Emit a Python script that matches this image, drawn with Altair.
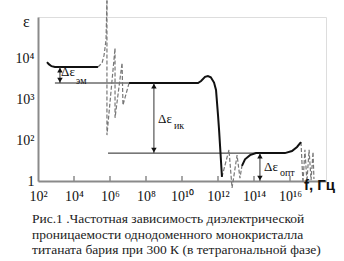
import altair as alt
import pandas as pd

# ---- data (x = log10 f, y = log10 eps) ----
solid_lowfreq_x = [2.5, 2.6, 2.75, 2.94, 5.33]
solid_lowfreq_y = [3.90, 3.85, 3.80, 3.78, 3.78]

solid_mid_x = [7.06, 10.89, 11.06, 11.28, 11.44, 11.6, 11.78, 11.89, 12.0, 12.06, 12.22]
solid_mid_y = [3.39, 3.39, 3.44, 3.54, 3.56, 3.53, 3.40, 3.22, 2.61, 2.24, 1.10]

solid_opt_x = [13.33, 13.5, 13.78, 14.11, 15.72, 16.11, 16.39, 16.61]
solid_opt_y = [1.37, 1.53, 1.63, 1.68, 1.68, 1.73, 1.83, 1.95]

dash_rise_x = [5.33, 5.56, 5.67, 5.78, 5.83]
dash_rise_y = [3.78, 3.88, 4.07, 4.44, 5.40]

dash_zig1_x = [5.83, 5.83, 6.28, 6.28, 6.67, 6.72, 7.06]
dash_zig1_y = [5.40, 2.12, 4.24, 2.54, 3.88, 2.85, 3.39]

dash_zig2_x = [12.22, 12.61, 12.78, 13.06, 13.22, 13.33]
dash_zig2_y = [1.10, 1.76, 0.83, 1.63, 1.07, 1.37]

dash_zig3_x = [16.61, 16.72, 16.83, 16.94, 17.06, 17.17, 17.28, 17.33]
dash_zig3_y = [1.95, 0.95, 1.76, 0.98, 1.76, 1.02, 1.71, 1.05]

ref_x1 = [2.94, 7.06]
ref_y1 = [3.39, 3.39]
ref_x2 = [5.89, 14.11]
ref_y2 = [1.68, 1.68]

arrow_x = [3.22, 8.44, 14.33]
arrow_top = [3.78, 3.39, 1.68]
arrow_bot = [3.39, 1.68, 1.0]

delta_x = [3.28, 8.67, 14.56]
delta_y = [3.66, 2.51, 1.34]
sub_text = ["эм", "ик", "опт"]
sub_x = [4.11, 9.55, 15.44]
sub_y = [3.45, 2.33, 1.19]

x_ticks = [2, 4, 6, 8, 10, 12, 14, 16]
x_tick_labels = ["10²", "10⁴", "10⁶", "10⁸", "10¹⁰", "10¹²", "10¹⁴", "10¹⁶"]
y_ticks = [1, 2, 3, 4]
y_tick_labels = ["1", "10²", "10³", "10⁴"]

caption = [
    "Рис.1 .Частотная зависимость диэлектрической",
    "проницаемости однодоменного монокристалла",
    "титаната бария при 300 К (в тетрагональной фазе)",
]

SERIF = "Times New Roman"


def seg_df(name, xs, ys):
    return pd.DataFrame({"x": xs, "y": ys, "seg": name, "o": list(range(len(xs)))})


solid = pd.concat([
    seg_df("s1", solid_lowfreq_x, solid_lowfreq_y),
    seg_df("s2", solid_mid_x, solid_mid_y),
    seg_df("s3", solid_opt_x, solid_opt_y),
])
dashed = pd.concat([
    seg_df("d1", dash_rise_x, dash_rise_y),
    seg_df("d2", dash_zig1_x, dash_zig1_y),
    seg_df("d3", dash_zig2_x, dash_zig2_y),
    seg_df("d4", dash_zig3_x, dash_zig3_y),
])
refs = pd.concat([
    seg_df("r1", ref_x1, ref_y1),
    seg_df("r2", ref_x2, ref_y2),
])
arrows = pd.DataFrame({"x": arrow_x, "top": arrow_top, "bot": arrow_bot})
deltas = pd.DataFrame({"x": delta_x, "y": delta_y, "t": ["Δε"] * 3})
subs = pd.DataFrame({"x": sub_x, "y": sub_y, "t": sub_text})
xt = pd.DataFrame({"x": x_ticks[1:], "y": [1.0] * 7, "y2": [1.12] * 7})


def label_expr(vals, labs):
    expr = "''"
    for v, l in reversed(list(zip(vals, labs))):
        expr = f"datum.value == {v} ? '{l}' : ({expr})"
    return expr


xscale = alt.Scale(domain=[2, 18], nice=False, zero=False)
yscale = alt.Scale(domain=[1, 5], nice=False, zero=False)

X = alt.X("x:Q", scale=xscale, axis=alt.Axis(
    values=x_ticks, labelExpr=label_expr(x_ticks, x_tick_labels), title=None,
    ticks=False, grid=False, domainColor="#8a8a8a", domainWidth=2,
    labelFont=SERIF, labelFontSize=14, labelColor="#111", labelPadding=8,
    labelFlush=False))
Y = alt.Y("y:Q", scale=yscale, axis=alt.Axis(
    values=y_ticks, labelExpr=label_expr(y_ticks, y_tick_labels), title=None,
    ticks=False, grid=False, domainColor="#8a8a8a", domainWidth=2,
    labelFont=SERIF, labelFontSize=14, labelColor="#111", labelPadding=4,
    labelFlush=False))

base_solid = alt.Chart(solid).mark_line(color="#111", strokeWidth=2, clip=False).encode(
    x=X, y=Y, detail="seg:N", order="o:Q")
base_dash = alt.Chart(dashed).mark_line(color="#777", strokeWidth=1.2, strokeDash=[4, 2], clip=False).encode(
    x="x:Q", y="y:Q", detail="seg:N", order="o:Q")
base_ref = alt.Chart(refs).mark_line(color="#222", strokeWidth=1).encode(
    x="x:Q", y="y:Q", detail="seg:N", order="o:Q")
arrow_rules = alt.Chart(arrows).mark_rule(color="#333", strokeWidth=1).encode(
    x="x:Q", y="top:Q", y2="bot:Q")
arrow_up = alt.Chart(arrows).mark_point(shape="triangle-up", filled=True, color="#111", size=30, opacity=1, yOffset=3).encode(
    x="x:Q", y="top:Q")
arrow_dn = alt.Chart(arrows).mark_point(shape="triangle-down", filled=True, color="#111", size=30, opacity=1, yOffset=-3).encode(
    x="x:Q", y="bot:Q")
delta_text = alt.Chart(deltas).mark_text(font=SERIF, fontSize=13, align="left", baseline="middle", color="#111").encode(
    x="x:Q", y="y:Q", text="t:N")
sub_txt = alt.Chart(subs).mark_text(font=SERIF, fontSize=10, align="left", baseline="middle", color="#111").encode(
    x="x:Q", y="y:Q", text="t:N")
x_tick_marks = alt.Chart(xt).mark_rule(color="#8a8a8a", strokeWidth=1.5).encode(
    x="x:Q", y="y:Q", y2="y2:Q")
eps_label = alt.Chart(pd.DataFrame({"x": [1.35], "y": [4.88], "t": ["ε"]})).mark_text(
    font=SERIF, fontSize=16, align="center", baseline="middle", color="#111", clip=False).encode(
    x="x:Q", y="y:Q", text="t:N")
f_label = alt.Chart(pd.DataFrame({"x": [16.78], "y": [0.9], "t": ["f,  Гц"]})).mark_text(
    font="Liberation Sans", fontSize=15, fontWeight="bold", align="left", baseline="middle", color="#111").encode(
    x="x:Q", y="y:Q", text="t:N")

chart = alt.layer(
    base_ref, base_dash, base_solid, x_tick_marks, arrow_rules, arrow_up, arrow_dn,
    delta_text, sub_txt, eps_label, f_label
).properties(
    width=288, height=164,
    autosize=alt.AutoSizeParams(type="none"),
    padding={"left": 38, "top": 17, "right": 18, "bottom": 80},
    title=alt.TitleParams(text=caption, orient="bottom", anchor="start", frame="group", font=SERIF,
                          fontSize=13.5, fontWeight="normal", lineHeight=15.5, color="#222",
                          dx=-6, offset=9),
).configure_view(stroke=None).configure(background="white")

chart.save("out.html", embed_options={"renderer": "svg", "actions": False})
